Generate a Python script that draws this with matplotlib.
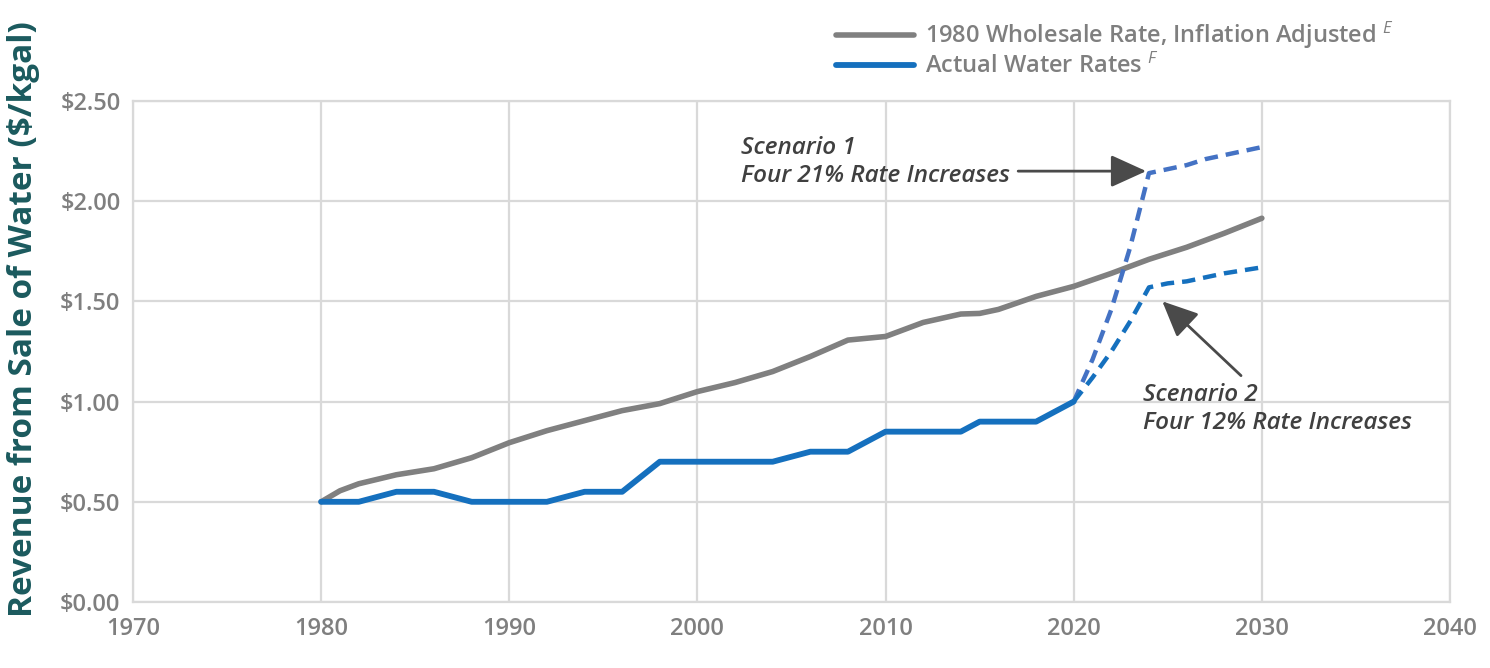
import matplotlib
matplotlib.use("Agg")
import matplotlib.pyplot as plt
from matplotlib.ticker import FuncFormatter, MultipleLocator

plt.rcParams["font.family"] = ["Open Sans", "DejaVu Sans"]
plt.rcParams["mathtext.fontset"] = "custom"
plt.rcParams["mathtext.it"] = "Open Sans:italic"
plt.rcParams["mathtext.rm"] = "Open Sans"

# 1980 wholesale rate, inflation adjusted ($/kgal)
wholesale_years = [1980, 1981, 1982, 1984, 1986, 1988, 1990, 1992, 1994, 1996, 1998,
                   2000, 2002, 2004, 2006, 2008, 2010, 2012, 2014, 2015, 2016, 2018,
                   2020, 2022, 2024, 2026, 2028, 2030]
wholesale_rate = [0.50, 0.555, 0.59, 0.635, 0.665, 0.72, 0.795, 0.855, 0.905, 0.955, 0.99,
                  1.05, 1.095, 1.15, 1.225, 1.307, 1.325, 1.395, 1.437, 1.44, 1.46, 1.525,
                  1.575, 1.64, 1.71, 1.77, 1.84, 1.915]

# actual water rates ($/kgal)
actual_years = [1980, 1982, 1984, 1986, 1988, 1990, 1992, 1994, 1996, 1998, 2000,
                2002, 2004, 2006, 2008, 2010, 2012, 2014, 2015, 2016, 2018, 2020]
actual_rate = [0.50, 0.50, 0.55, 0.55, 0.50, 0.50, 0.50, 0.55, 0.55, 0.70, 0.70,
               0.70, 0.70, 0.75, 0.75, 0.85, 0.85, 0.85, 0.90, 0.90, 0.90, 1.00]

# projections
scenario_years = [2020, 2021, 2022, 2023, 2024, 2025, 2026, 2027, 2028, 2029, 2030]
scenario1_rate = [1.00, 1.21, 1.46, 1.77, 2.14, 2.16, 2.18, 2.21, 2.23, 2.25, 2.27]
scenario2_rate = [1.00, 1.12, 1.25, 1.40, 1.57, 1.59, 1.60, 1.62, 1.64, 1.655, 1.67]

gray = "#808080"
blue = "#1570BE"
blue_s1 = "#4472C4"
txt_gray = "#7F7F7F"
note_gray = "#404040"
grid_gray = "#D9D9D9"

fig = plt.figure(figsize=(14.9, 6.68), dpi=100)
ax = fig.add_axes([133 / 1490, 66 / 668, 1317 / 1490, 501 / 668])

ax.plot(wholesale_years, wholesale_rate, color=gray, lw=4.0, solid_capstyle="round",
        label="1980 Wholesale Rate, Inflation Adjusted $^{E}$", zorder=3)
ax.plot(actual_years, actual_rate, color=blue, lw=4.2, solid_capstyle="round",
        label="Actual Water Rates $^{F}$", zorder=4)
ax.plot(scenario_years, scenario1_rate, color=blue_s1, lw=3.2, dashes=(3, 1.8), zorder=3)
ax.plot(scenario_years, scenario2_rate, color=blue, lw=3.2, dashes=(3, 1.8), zorder=3)

ax.set_xlim(1970, 2040)
ax.set_ylim(0, 2.5)
ax.xaxis.set_major_locator(MultipleLocator(10))
ax.yaxis.set_major_locator(MultipleLocator(0.5))
ax.yaxis.set_major_formatter(FuncFormatter(lambda v, p: "${:.2f}".format(v)))
ax.grid(True, color=grid_gray, lw=1.6)
ax.set_axisbelow(True)
for s in ax.spines.values():
    s.set_color(grid_gray)
    s.set_linewidth(1.6)
ax.tick_params(length=0, labelsize=17, labelcolor=txt_gray)
ax.tick_params(axis="x", pad=11)
ax.tick_params(axis="y", pad=9)
for lab in ax.get_xticklabels() + ax.get_yticklabels():
    lab.set_fontweight("semibold")

ax.set_ylabel("Revenue from Sale of Water ($/kgal)", fontsize=24, fontweight="bold",
              color="#1B5A5E")
ax.yaxis.set_label_coords(-0.0706, 0.565)

# annotations
arrow_style = "-|>,head_length=2.2,head_width=1.0"
ax.annotate("", xy=(2024.0, 2.15), xytext=(2016.9, 2.15),
            arrowprops=dict(arrowstyle=arrow_style, color="#4A4A4A", lw=2))
ax.text(2002.3, 2.195, "Scenario 1\nFour 21% Rate Increases", fontsize=17.5,
        style="italic", fontweight="semibold", color=note_gray, linespacing=1.2,
        va="center", ha="left")
ax.annotate("", xy=(2024.6, 1.51), xytext=(2029.0, 1.12),
            arrowprops=dict(arrowstyle=arrow_style, color="#4A4A4A", lw=2))
ax.text(2023.7, 0.963, "Scenario 2\nFour 12% Rate Increases", fontsize=17.5,
        style="italic", fontweight="semibold", color=note_gray, linespacing=1.2,
        va="center", ha="left")

leg = ax.legend(loc="upper left", bbox_to_anchor=(824 / 1490, 1 - 8 / 668),
                bbox_transform=fig.transFigure, frameon=False, fontsize=17,
                handlelength=3.3, handletextpad=0.47, labelspacing=0.12, borderpad=0)
for t in leg.get_texts():
    t.set_color(txt_gray)
    t.set_fontweight("semibold")

fig.savefig("out.png", dpi=100)
